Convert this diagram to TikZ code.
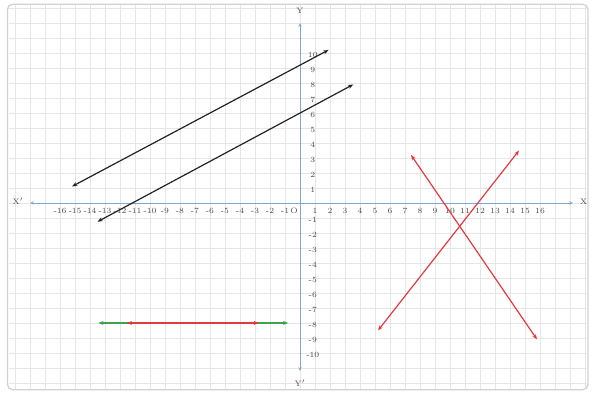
\documentclass[tikz,border=0pt]{standalone}
\usetikzlibrary{arrows.meta}
\definecolor{axisblue}{HTML}{7FA7D3}
\definecolor{inkblack}{HTML}{222222}
\definecolor{inkred}{HTML}{E0393E}
\definecolor{inkgreen}{HTML}{3FA34D}
\definecolor{gridgray}{HTML}{E6E6E6}
\definecolor{framegray}{HTML}{D2D2D2}
\begin{document}
\begin{tikzpicture}[x=0.4cm, y=0.4cm,
  every node/.style={font=\fontsize{6}{7}\selectfont, text=black!70},
  axis/.style={draw=axisblue, line width=0.5pt, {Stealth[length=3pt,width=2.5pt]}-{Stealth[length=3pt,width=2.5pt]}},
  ray/.style={line width=0.9pt, {Stealth[length=4pt,width=3pt]}-{Stealth[length=4pt,width=3pt]}}]
\useasboundingbox (-20,-12.73) rectangle (19.53,13.53);
\draw[rounded corners=4pt, draw=framegray, line width=1pt, fill=white] (-19.5,-12.45) rectangle (19.2,13.25);
\begin{scope}
  \clip (-19.4,-12.35) rectangle (19.1,13.15);
  \draw[gridgray, line width=0.4pt, step=1] (-20,-13) grid (20,14);
\end{scope}
% axes
\coordinate (xl) at (-18,0);
\coordinate (xr) at (18.2,0);
\coordinate (yt) at (0,12);
\coordinate (yb) at (0,-11.2);
\draw[axis] (xl) -- (xr);
\draw[axis] (yb) -- (yt);
\node (xlname) at (-18.8,0.1) {X$'$};
\node (xrname) at (18.9,0.1) {X};
\node (ytname) at (0,12.8) {Y};
\node (ybname) at (0,-12) {Y$'$};
\node (orig) at (-0.4,-0.55) {O};
\foreach \i in {-16,...,-1,1,2,...,16}
  \node (xt\i) at (\i,-0.55) {\i};
\foreach \j in {-10,...,-1,1,2,...,10}
  \node (yt\j) at (0.85,\j-0.1) {\j};
% parallel black lines
\coordinate (pa1) at (-15.2,1.1);
\coordinate (pa2) at (1.9,10.2);
\coordinate (pb1) at (-13.5,-1.25);
\coordinate (pb2) at (3.55,7.9);
\draw[ray, inkblack] (pa1) -- (pa2);
\draw[ray, inkblack] (pb1) -- (pb2);
% crossing red lines
\coordinate (ca1) at (5.2,-8.5);
\coordinate (ca2) at (14.6,3.5);
\coordinate (cb1) at (7.4,3.2);
\coordinate (cb2) at (15.8,-9.1);
\draw[ray, inkred] (ca1) -- (ca2);
\draw[ray, inkred] (cb1) -- (cb2);
% segment on y=-8
\coordinate (g1) at (-13.45,-8);
\coordinate (g2) at (-0.78,-8);
\coordinate (r1) at (-11.55,-8);
\coordinate (r2) at (-2.73,-8);
\draw[ray, inkgreen] (g1) -- (g2);
\draw[ray, inkred] (r1) -- (r2);
\end{tikzpicture}
\end{document}
